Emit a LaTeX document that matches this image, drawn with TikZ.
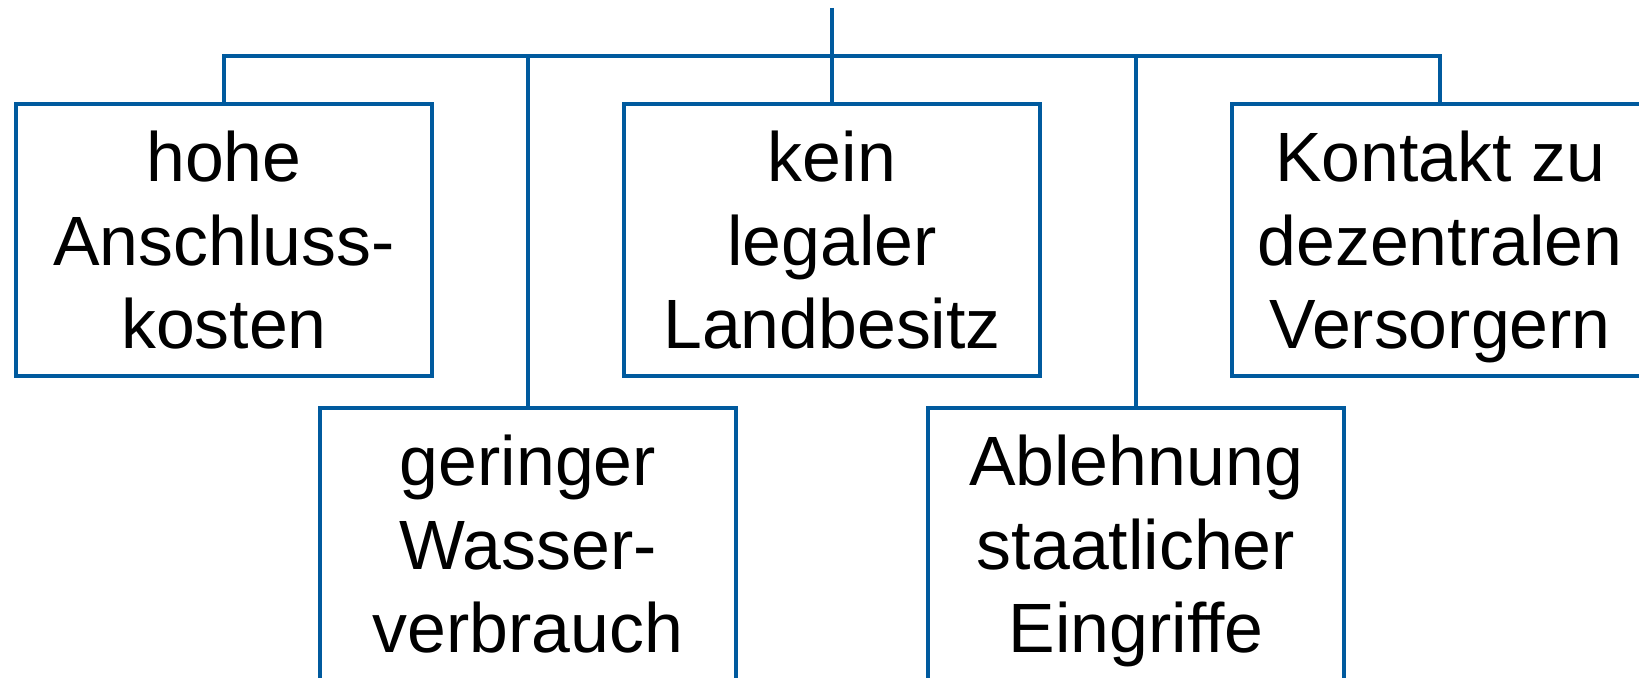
\documentclass[tikz,border=0pt]{standalone}
\usepackage{fontspec}
\setmainfont{Liberation Sans}
\definecolor{treeblue}{RGB}{0,90,158}
\begin{document}
\begin{tikzpicture}[x=0.5pt,y=-0.5pt,
  line width=2.3pt,
  box/.style={draw=treeblue, rectangle, minimum width=208pt, minimum height=136pt,
    inner sep=0pt, outer sep=0pt, align=center,
    font=\fontsize{34.9pt}{41.65pt}\selectfont},
  link/.style={draw=treeblue, line join=miter, line cap=butt}]
\useasboundingbox (0,0) rectangle (1639,678);

% upper row
\node[box] (b1) at (224,240) {hohe\\Anschluss-\\\smash{kosten}};
\node[box] (b3) at (832,240) {kein\\legaler\\\smash{Landbesitz}};
\node[box] (b5) at (1440,240) {Kontakt zu\\dezentralen\\\smash{Versorgern}};
% lower row
\node[box] (b2) at (528,544) {geringer\\Wasser-\\\smash{verbrauch}};
\node[box] (b4) at (1136,544) {Ablehnung\\staatlicher\\\smash{Eingriffe}};

% branching lines
\coordinate (root) at (832,8);
\coordinate (bar) at (0,56);
\draw[link] (b1.north) -- (b1.north |- bar) -- (b5.north |- bar) -- (b5.north);
\draw[link] (b2.north) -- (b2.north |- bar);
\draw[link] (b4.north) -- (b4.north |- bar);
\draw[link] (root) -- (b3.north);
\end{tikzpicture}
\end{document}
